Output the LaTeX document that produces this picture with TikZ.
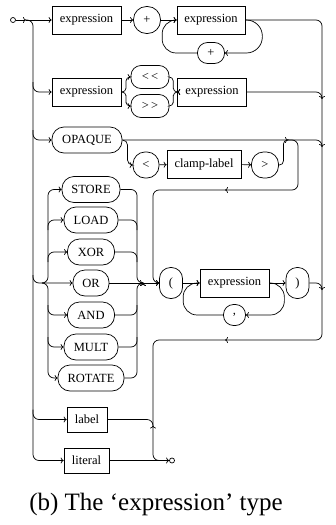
\documentclass[tikz,border=0pt]{standalone}
\usepackage{fontspec}
\setmainfont{Liberation Serif}
\usetikzlibrary{calc, arrows.meta}

\begin{document}
\begin{tikzpicture}[x = 1pt, y = -1pt, line width = 0.7pt,
    > = {To[length = 3pt, width = 6pt]},
    every node/.style = {draw, inner sep = 0pt, font = \fontsize{12.5}{14}\selectfont},
    nonterm/.style = {minimum height = 28pt},
    term/.style = {rounded corners = 12pt, minimum height = 26pt},
    knob/.style = {rounded corners = 10pt, minimum width = 23pt, minimum height = 23pt},
    dot/.style = {circle, minimum size = 5pt},
    rail/.style = {rounded corners = 6pt},
    sbend/.style = {to path = {-| ($(\tikztostart)!.5!(\tikztotarget)$) |- (\tikztotarget) \tikztonodes}}]
    \useasboundingbox (0, 0) rectangle (335, 525);

    \node[dot] (start) at (13, 20) {};
    \node[nonterm, minimum width = 69pt] (e1) at (86.5, 20) {expression};
    \node[knob, rounded corners = 13pt, minimum width = 27pt, minimum height = 27pt] (plus1) at (147, 20) {+};
    \node[nonterm, minimum width = 68pt] (e2) at (211, 20) {expression};
    \node[knob, minimum width = 27pt, minimum height = 21pt] (plus2) at (211, 53) {+};
    \node[nonterm, minimum width = 69pt] (e3) at (86.5, 92) {expression};
    \node[knob, minimum width = 38pt] (shl) at (150, 77) {<\kern2pt<};
    \node[knob, minimum width = 38pt] (shr) at (150, 106) {>\kern2pt>};
    \node[nonterm, minimum width = 69pt] (e4) at (212, 92) {expression};
    \node[term, minimum width = 70pt] (opaque) at (87, 140) {OPAQUE};
    \node[knob, rounded corners = 12pt, minimum width = 26pt, minimum height = 26pt] (lt) at (146, 165) {<};
    \node[nonterm, minimum width = 74pt] (clamp) at (204, 164) {clamp-label};
    \node[knob, rounded corners = 12pt, minimum width = 27pt, minimum height = 26pt] (gt) at (265, 165) {>};
    \foreach \name/\w/\y in {STORE/58/189.5, LOAD/54/220, XOR/47/252, OR/36/283,
        AND/47/315, MULT/54/347, ROTATE/66/378}
        \node[term, minimum width = \w pt] (\name) at (91, \y) {\name};
    \node[knob, rounded corners = 11pt, minimum height = 31pt] (lpar) at (171, 283) {(};
    \node[nonterm, minimum width = 69pt] (e5) at (234.5, 283) {expression};
    \node[knob, rounded corners = 11pt, minimum height = 31pt] (rpar) at (297.5, 283) {)};
    \node[knob, minimum width = 22pt, minimum height = 21pt] (comma) at (234.5, 315) {,};
    \node[minimum width = 40pt, minimum height = 25pt] (label) at (87, 419.5) {label};
    \node[minimum width = 45pt, minimum height = 25pt] (literal) at (86.5, 460.5) {literal};
    \node[dot] (endc) at (172, 460.5) {};
    \node[draw = none, font = \fontsize{25}{30}\selectfont] (caption) at (156, 505)
        {(b) The ‘expression’ type};

    \coordinate (fork) at (26, 20);
    \coordinate (lrail) at (33, 0);
    \coordinate (irail) at (48, 0);
    \coordinate (orail) at (137, 0);
    \coordinate (merge) at (143, 283);
    \coordinate (lowrail) at (153, 0);
    \coordinate (rrail) at (322, 0);
    \coordinate (join) at (288, 140);
    \coordinate (upback) at (225, 190);
    \coordinate (lowback) at (225, 340);

    % first row: expression + expression {+ expression}
    \draw[->] (start) -- (fork);
    \draw[->] (fork) -- (e1);
    \draw[->] (e1) -- (plus1);
    \draw[->] (plus1) -- (e2);
    \draw[->, rounded corners = 16pt] (e2.east) -- ++(17, 0) |- (plus2.east);
    \draw[->, rounded corners = 14pt] (plus2.west) -- ++(-35, 0) |- (e2.west);
    \draw[->, rail] (e2.east) -| (rrail |- lowback) -- (lowback);
    \draw[rail] (lowback) -| (lowrail |- endc) -- (endc.west);

    % shifts
    \draw[->, rail] ($(lrail |- e3) + (0, -10)$) |- (e3.west);
    \draw[->, rounded corners = 4pt] (e3.east) to[sbend] (shl.west);
    \draw[->, rounded corners = 4pt] (e3.east) to[sbend] (shr.west);
    \draw[->, rounded corners = 4pt] (shl.east) to[sbend] (e4.west);
    \draw[->, rounded corners = 4pt] (shr.east) to[sbend] (e4.west);
    \draw[->, rail] (e4.east) -| ($(rrail |- e4) + (0, 7)$);

    % OPAQUE [< clamp-label >]
    \draw[->, rail] ($(lrail |- opaque) + (0, -10)$) |- (opaque.west);
    \draw[->, rail] (opaque.east) -| ($(rrail |- opaque) + (0, 7)$);
    \draw[->, rounded corners = 5pt] (opaque.east) to[sbend] (lt.west);
    \draw[->] (lt) -- (clamp);
    \draw[->] (clamp) -- (gt);
    \draw[->, rounded corners = 4pt] (gt.east) to[sbend] (join);
    \draw[->, rail] (join) -- ++(10, 0) |- (upback);
    \draw[->, rail] (upback) -| (lowrail |- lpar) -- (lpar.west);

    % operators
    \draw[->, rail] ($(lrail |- OR) + (0, -8)$) |- (OR.west);
    \draw[->] (OR) -- (merge);
    \foreach \name in {STORE, ROTATE} {
        \draw[->, rail] ($(irail |- OR) + (-6, 0)$) -- (irail |- OR) |- (\name.west);
        \draw[->, rail] (\name.east) -| (orail |- OR) -- (merge);
    }
    \foreach \name in {LOAD, XOR} {
        \draw[->, rail] ($(irail |- \name) + (0, 10)$) |- (\name.west);
        \draw[rail] (\name.east) -| ($(orail |- \name) + (0, 10)$);
    }
    \foreach \name in {AND, MULT} {
        \draw[->, rail] ($(irail |- \name) + (0, -10)$) |- (\name.west);
        \draw[rail] (\name.east) -| ($(orail |- \name) + (0, -10)$);
    }
    \draw[->] (merge) -- (lpar);

    % ( expression {, expression} )
    \draw[->] (lpar) -- (e5);
    \draw[->] (e5) -- (rpar);
    \draw[->, rounded corners = 14pt] (e5.east) -- ++(15, 0) |- (comma.east);
    \draw[->, rounded corners = 14pt] (comma.west) -- ++(-40, 0) |- (e5.west);
    \draw[->, rail] (rpar.east) -| ($(rrail |- rpar) + (0, 7)$);

    % label, literal
    \draw[->, rail] ($(lrail |- label) + (0, -10)$) |- (label.west);
    \draw[->, rail] (label.east) -| ($(lowrail |- label) + (0, 6)$);
    \draw[->, rail] (fork) -| (lrail |- literal) -- (literal.west);
    \draw[->] (literal) -- (endc);
\end{tikzpicture}
\end{document}
